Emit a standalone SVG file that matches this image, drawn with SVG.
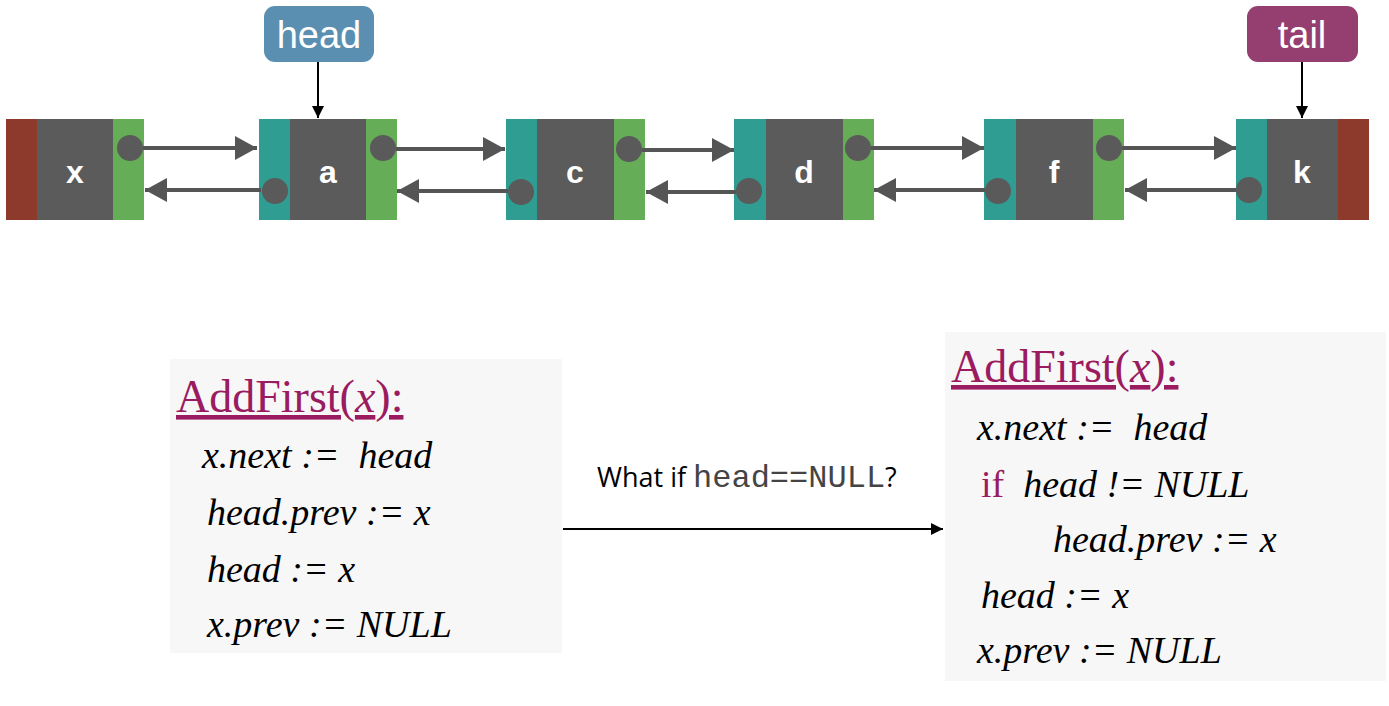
<svg xmlns="http://www.w3.org/2000/svg" width="1389" height="706" viewBox="0 0 1389 706">
<style>
.red{fill:#8d3a2d}.teal{fill:#2f9d92}.green{fill:#66ad57}.gray{fill:#5b5b5b}
.dot{fill:#5a5a5a}
.lbl{font-family:"Liberation Sans",Arial,sans-serif;font-weight:bold;font-size:32px;fill:#fff;text-anchor:middle}
.ptr{font-family:"Liberation Sans",Arial,sans-serif;font-size:38px;fill:#fff;text-anchor:middle}
.link{stroke:#555;stroke-width:4;fill:none}
.code{font-family:"Liberation Serif","Times New Roman",serif;font-style:italic;font-size:38px;fill:#000}
.title{font-family:"Liberation Serif","Times New Roman",serif;font-size:46px;fill:#9a1b5f;text-decoration:underline}
.box{fill:#f7f7f7}
.q{font-family:"Open Sans","Noto Sans",sans-serif;font-size:27px;fill:#000}
.mono{font-family:"Liberation Mono","Courier New",monospace;font-size:32px;fill:#444}
</style>
<defs>
<marker id="ah" markerWidth="24" markerHeight="26" refX="22" refY="13" orient="auto" markerUnits="userSpaceOnUse">
<path d="M0,1 L22,13 L0,25 Z" fill="#555"/>
</marker>
<marker id="bk" markerWidth="14" markerHeight="14" refX="12" refY="7" orient="auto" markerUnits="userSpaceOnUse">
<path d="M0,1 L12,7 L0,13 Z" fill="#000"/>
</marker>
</defs>

<g id="node-x">
<rect class="red" x="6" y="119" width="31" height="101"/>
<rect class="gray" x="37" y="119" width="76" height="101"/>
<rect class="green" x="113" y="119" width="31" height="101"/>
<circle class="dot" cx="130" cy="148" r="13"/>
<text class="lbl" x="75" y="183">x</text>
</g>
<g id="node-a">
<rect class="teal" x="259" y="119" width="31" height="101"/>
<rect class="gray" x="290" y="119" width="76" height="101"/>
<rect class="green" x="366" y="119" width="31" height="101"/>
<circle class="dot" cx="383" cy="148" r="13"/>
<circle class="dot" cx="275" cy="191" r="13"/>
<text class="lbl" x="328" y="183">a</text>
</g>
<g id="node-c">
<rect class="teal" x="506" y="119" width="31" height="101"/>
<rect class="gray" x="537" y="119" width="77" height="101"/>
<rect class="green" x="614" y="119" width="31" height="101"/>
<circle class="dot" cx="629" cy="149" r="13"/>
<circle class="dot" cx="521" cy="192" r="13"/>
<text class="lbl" x="575" y="183">c</text>
</g>
<g id="node-d">
<rect class="teal" x="734" y="119" width="32" height="101"/>
<rect class="gray" x="766" y="119" width="77" height="101"/>
<rect class="green" x="843" y="119" width="31" height="101"/>
<circle class="dot" cx="858" cy="148" r="13"/>
<circle class="dot" cx="749" cy="191" r="13"/>
<text class="lbl" x="804" y="183">d</text>
</g>
<g id="node-f">
<rect class="teal" x="984" y="119" width="32" height="101"/>
<rect class="gray" x="1016" y="119" width="77" height="101"/>
<rect class="green" x="1093" y="119" width="31" height="101"/>
<circle class="dot" cx="1109" cy="148" r="13"/>
<circle class="dot" cx="998" cy="191" r="13"/>
<text class="lbl" x="1054" y="183">f</text>
</g>
<g id="node-k">
<rect class="teal" x="1236" y="119" width="31" height="101"/>
<rect class="gray" x="1267" y="119" width="71" height="101"/>
<rect class="red" x="1338" y="119" width="31" height="101"/>
<circle class="dot" cx="1249" cy="190" r="13"/>
<text class="lbl" x="1302" y="183">k</text>
</g>

<g id="head">
<rect x="264" y="6" width="110" height="56" rx="11" fill="#5a8fb1"/>
<text class="ptr" x="319" y="48">head</text>
</g>
<g id="tail">
<rect x="1247" y="6" width="111" height="56" rx="11" fill="#953f70"/>
<text class="ptr" x="1302" y="48">tail</text>
</g>

<g id="connectors">
<line class="link" x1="143" y1="148" x2="257" y2="148" marker-end="url(#ah)"/>
<line class="link" x1="261" y1="190" x2="145" y2="190" marker-end="url(#ah)"/>
<line class="link" x1="396" y1="149" x2="505" y2="149" marker-end="url(#ah)"/>
<line class="link" x1="508" y1="191" x2="397" y2="191" marker-end="url(#ah)"/>
<line class="link" x1="642" y1="150" x2="734" y2="150" marker-end="url(#ah)"/>
<line class="link" x1="736" y1="192" x2="646" y2="192" marker-end="url(#ah)"/>
<line class="link" x1="871" y1="148" x2="984" y2="148" marker-end="url(#ah)"/>
<line class="link" x1="985" y1="190" x2="874" y2="190" marker-end="url(#ah)"/>
<line class="link" x1="1122" y1="148" x2="1236" y2="148" marker-end="url(#ah)"/>
<line class="link" x1="1236" y1="190" x2="1125" y2="190" marker-end="url(#ah)"/>
<line x1="318" y1="62" x2="318" y2="118" stroke="#000" stroke-width="2" marker-end="url(#bk)"/>
<line x1="1302" y1="62" x2="1302" y2="118" stroke="#000" stroke-width="2" marker-end="url(#bk)"/>
<line x1="563" y1="529" x2="943" y2="529" stroke="#000" stroke-width="2" marker-end="url(#bk)"/>
</g>

<g id="code-left">
<rect class="box" x="170" y="359" width="392" height="294"/>
<text class="title" x="176" y="412">AddFirst(<tspan font-style="italic">x</tspan>):</text>
<text class="code" x="202" y="468" xml:space="preserve">x.next :=  head</text>
<text class="code" x="207" y="525">head.prev := x</text>
<text class="code" x="207" y="582">head := x</text>
<text class="code" x="207" y="637">x.prev := NULL</text>
</g>

<g id="label">
<text class="q" x="597" y="487" xml:space="preserve">What if <tspan class="mono">head==NULL</tspan>?</text>
</g>

<g id="code-right">
<rect class="box" x="945" y="332" width="441" height="349"/>
<text class="title" x="951" y="382">AddFirst(<tspan font-style="italic">x</tspan>):</text>
<text class="code" x="977" y="440" xml:space="preserve">x.next :=  head</text>
<text class="code" x="981" y="497" xml:space="preserve"><tspan font-style="normal" fill="#9a1b5f">if</tspan>  head != NULL</text>
<text class="code" x="1053" y="552">head.prev := x</text>
<text class="code" x="981" y="608">head := x</text>
<text class="code" x="977" y="663">x.prev := NULL</text>
</g>
</svg>
